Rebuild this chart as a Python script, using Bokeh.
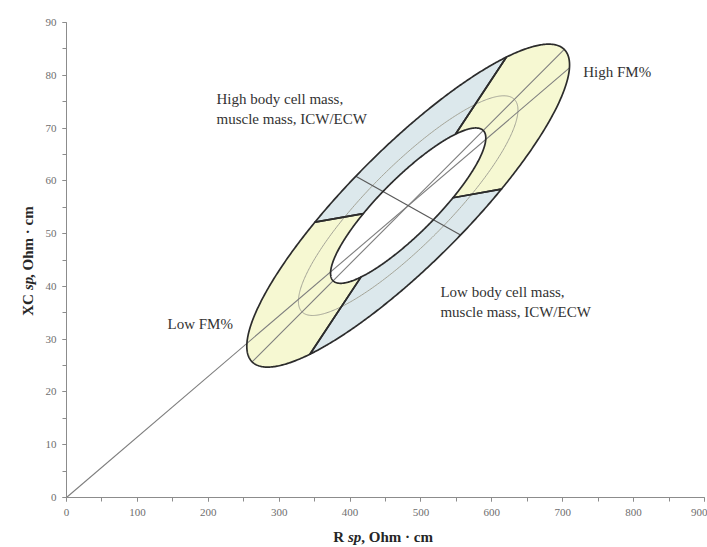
import math
import numpy as np
from bokeh.plotting import figure
from bokeh.layouts import column, row
from bokeh.models import ColumnDataSource, SingleIntervalTicker
from bokeh.core.properties import value
from bokeh.embed import file_html
from bokeh.resources import INLINE

# Reference population of the specific impedance vector (R sp, Xc sp, Ohm·cm)
mean_r = 482.0
mean_xc = 55.3
sd_r = 93.0
sd_xc = 12.5
corr_r_xc = 0.871

# Tolerance ellipses: inner, middle and outer probability levels
tolerance_levels = [0.50, 0.75, 0.95]

# Sector boundaries and the cross line, as directions (degrees) in
# standardized (z-score) R/Xc space, measured from the +R direction
sector_edges = [10.0, 56.5, 190.0, 236.5]
sector_colors = ["#f6f8d2", "#dce8ec", "#f6f8d2", "#dce8ec"]
cross_direction = -29.3

# Notes written on the chart (anchor = left edge, vertical middle)
note_text = [
    "High body cell mass,\nmuscle mass, ICW/ECW",
    "Low body cell mass,\nmuscle mass, ICW/ECW",
    "Low FM%",
    "High FM%",
]
note_r = [211.6, 527.5, 142.5, 729.0]
note_xc = [73.7, 37.0, 32.8, 80.7]

# Axis titles: (text, font style) pieces
x_title = [("R ", "bold"), ("sp", "bold italic"), (", Ohm \u00b7 cm", "bold")]
y_title = [("XC ", "bold"), ("sp", "bold italic"), (", Ohm \u00b7 cm", "bold")]

x_range = (0, 900)
y_range = (0, 90)
x_tick_step = 100
y_tick_step = 10

SERIF = "Liberation Serif"

# ---------------------------------------------------------------- geometry
a_ax = math.sqrt(1.0 + corr_r_xc)
b_ax = math.sqrt(1.0 - corr_r_xc)
k_in, k_mid, k_out = [math.sqrt(-2.0 * math.log(1.0 - p)) for p in tolerance_levels]
inv_c = 1.0 / (1.0 - corr_r_xc ** 2)


def maha2(zx, zy):
    return inv_c * (zx * zx - 2 * corr_r_xc * zx * zy + zy * zy)


def z_to_data(zx, zy):
    return mean_r + sd_r * np.asarray(zx), mean_xc + sd_xc * np.asarray(zy)


def ellipse_pts(k, t):
    u = k * a_ax * np.cos(t)
    v = k * b_ax * np.sin(t)
    h = math.sqrt(0.5)
    return z_to_data(h * (u - v), h * (u + v))


def dir_to_t(phi_deg):
    psi = math.radians(phi_deg - 45.0)
    return math.atan2(a_ax * math.sin(psi), b_ax * math.cos(psi))


# parametric angles of the sector edges, made increasing
t_edges = [dir_to_t(e) for e in sector_edges]
t_seq = [t_edges[0]]
for t in t_edges[1:] + [t_edges[0]]:
    while t <= t_seq[-1]:
        t += 2 * math.pi
    t_seq.append(t)

sec_xs, sec_ys = [], []
for i in range(len(sector_edges)):
    tt = np.linspace(t_seq[i], t_seq[i + 1], 160)
    ox, oy = ellipse_pts(k_out, tt)
    ix, iy = ellipse_pts(k_in, tt[::-1])
    sec_xs.append(np.concatenate([ox, ix]).tolist())
    sec_ys.append(np.concatenate([oy, iy]).tolist())

t_full = np.linspace(0, 2 * math.pi, 400)
mid_x, mid_y = ellipse_pts(k_mid, t_full)

# line from the origin through the mean vector, ending on the outer ellipse
wz = (mean_r / sd_r, mean_xc / sd_xc)
lam = 1.0 + k_out / math.sqrt(maha2(*wz))
origin_x = [0.0, lam * mean_r]
origin_y = [0.0, lam * mean_xc]

# major axis of the ellipses
maj_x, maj_y = ellipse_pts(k_out, np.array([math.pi, 0.0]))

# cross line through the mean
cd = (math.cos(math.radians(cross_direction)), math.sin(math.radians(cross_direction)))
s_cross = k_out / math.sqrt(maha2(*cd))
cross_x, cross_y = z_to_data([-s_cross * cd[0], s_cross * cd[0]],
                             [-s_cross * cd[1], s_cross * cd[1]])

# ---------------------------------------------------------------- main plot
TOTAL_W, TOTAL_H = 707, 547
YT_W = 40          # strip holding the vertical title
XT_H = 22          # strip holding the horizontal title
MAIN_W = TOTAL_W - YT_W
MAIN_H = TOTAL_H - XT_H

p = figure(
    width=MAIN_W, height=MAIN_H,
    x_range=x_range, y_range=y_range,
    output_backend="svg", toolbar_location=None,
    min_border_left=26, min_border_right=3,
    min_border_top=22, min_border_bottom=28,
)
p.outline_line_color = None
p.grid.grid_line_color = None

p.xaxis.ticker = SingleIntervalTicker(interval=x_tick_step, num_minor_ticks=2)
p.yaxis.ticker = SingleIntervalTicker(interval=y_tick_step, num_minor_ticks=2)
for ax in (p.xaxis, p.yaxis):
    ax.axis_line_color = "#8c8c8c"
    ax.major_tick_line_color = "#8c8c8c"
    ax.minor_tick_line_color = "#8c8c8c"
    ax.major_tick_in = 0
    ax.major_tick_out = 4
    ax.minor_tick_in = 0
    ax.minor_tick_out = 4
    ax.major_label_text_font = SERIF
    ax.major_label_text_font_size = "11px"
    ax.major_label_text_color = "#6e6e6e"
p.xaxis.major_label_standoff = 7
p.yaxis.major_label_standoff = 6

# shaded sectors between inner and outer ellipse
p.patches(sec_xs, sec_ys, fill_color=sector_colors, line_color=None)
# middle tolerance ellipse
p.line(mid_x, mid_y, line_color="#a3a396", line_width=1)
# reference lines
p.line(origin_x, origin_y, line_color="#7d7d7d", line_width=1.1)
p.line(maj_x, maj_y, line_color="#7d7d7d", line_width=1.1)
p.line(cross_x, cross_y, line_color="#5a5a5a", line_width=1.2)
# outlines of the sectors (outer ellipse, inner ellipse, sector edges)
p.patches(sec_xs, sec_ys, fill_color=None, line_color="#2c2c2c",
          line_width=1.7, line_join="round")

notes = ColumnDataSource(dict(r=note_r, xc=note_xc, text=note_text))
p.text(x="r", y="xc", text="text", source=notes,
       text_font=value(SERIF), text_font_size="15px", text_color="#333333",
       text_align="left", text_baseline="middle", text_line_height=1.25)

# ---------------------------------------------------------------- axis titles
WIDTHS = {
    "bold": {"R": 722, "X": 722, "C": 722, " ": 250, ",": 250, "O": 778,
             "h": 556, "m": 833, "\u00b7": 250, "c": 444},
    "bold italic": {"s": 389, "p": 500},
}
TITLE_SIZE = 15


def piece_width(txt, style, gap):
    w = sum(WIDTHS[style][ch] for ch in txt) / 1000.0 * TITLE_SIZE
    return w + (gap if txt.endswith(" ") else 0.0)


def title_strip(w, h, pieces, cx, cy, vertical):
    """A bare pixel-unit figure that writes a title centred on (cx, cy)."""
    f = figure(width=w, height=h, x_range=(0, w), y_range=(0, h),
               output_backend="svg", toolbar_location=None, min_border=0)
    f.axis.visible = False
    f.grid.visible = False
    f.outline_line_color = None
    gap = 3.0 if vertical else 0.0   # rotated runs sit a little tighter
    total = sum(piece_width(t, s, gap) for t, s in pieces)
    pos = -total / 2.0
    for txt, style in pieces:
        if vertical:
            x, y, ang = cx, cy + pos, math.pi / 2
        else:
            x, y, ang = cx + pos, cy, 0.0
        f.text(x=[x], y=[y], text=[txt.rstrip()], angle=ang,
               text_font=value(SERIF), text_font_style=style,
               text_font_size=f"{TITLE_SIZE}px", text_color="#262626",
               text_align="left", text_baseline="middle")
        pos += piece_width(txt, style, gap)
    return f


y_strip = title_strip(YT_W, MAIN_H, y_title, 27, MAIN_H - 268, vertical=True)
x_strip = title_strip(TOTAL_W, XT_H, x_title, 382, XT_H - 11, vertical=False)

layout = column(row(y_strip, p, spacing=0), x_strip, spacing=0)

open("out.html", "w").write(file_html(layout, INLINE))
